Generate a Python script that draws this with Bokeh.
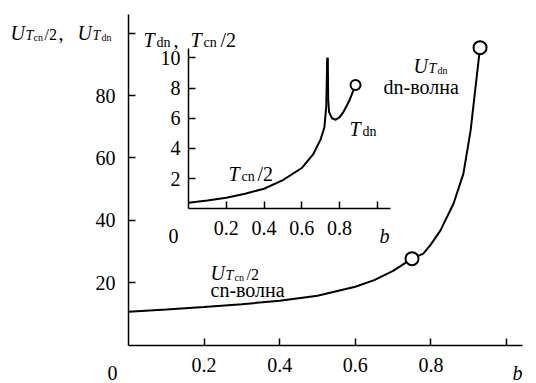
from bokeh.plotting import figure
from bokeh.models import Range1d, LinearAxis, FixedTicker, Label
from bokeh.embed import file_html
from bokeh.resources import INLINE

# ---------------- data ----------------
# main chart: U_{T_cn/2} (cn-wave) and U_{T_dn} (dn-wave) vs b
cn_b = [0.0, 0.1, 0.2, 0.3, 0.4, 0.5, 0.6, 0.65, 0.7, 0.75]
cn_U = [10.7, 11.4, 12.2, 13.1, 14.2, 15.8, 18.7, 20.8, 23.8, 27.7]
dn_b = [0.75, 0.78, 0.80, 0.825, 0.86, 0.886, 0.905, 0.93]
dn_U = [27.7, 29.3, 32.3, 36.7, 45.4, 55.0, 68.8, 95.4]

main_xticks = [0.2, 0.4, 0.6, 0.8, 1.0]
main_xlabels = ["0.2", "0.4", "0.6", "0.8", ""]
main_yticks = [20, 40, 60, 80, 100]
main_ylabels = ["20", "40", "60", "80", ""]

# inset: T_cn/2 and T_dn vs b
tcn_b = [0.0, 0.1, 0.2, 0.3, 0.4, 0.5, 0.6, 0.66, 0.7, 0.72, 0.73, 0.735]
tcn_T = [0.4, 0.55, 0.73, 1.0, 1.33, 1.9, 2.7, 3.6, 4.6, 5.4, 6.8, 10.0]
tdn_b = [0.738, 0.74, 0.745, 0.76, 0.78, 0.80, 0.82, 0.85, 0.885]
tdn_T = [10.0, 7.2, 6.4, 6.0, 5.9, 6.05, 6.4, 7.1, 8.2]

inset_xticks = [0.2, 0.4, 0.6, 0.8, 1.0]
inset_xlabels = ["0.2", "0.4", "0.6", "0.8", ""]
inset_yticks = [2, 4, 6, 8, 10]
inset_ylabels = ["2", "4", "6", "8", "10"]

# ---------------- layout ----------------
W, H = 536, 383
MX0, MXS = 128.0, 378.0                  # main: px of b=0, px per unit
MY0, MYS = 344.5, 3.117                  # main: px of U=0, px per unit
MAIN_XEND, MAIN_YEND = 1.0423, 105.9     # extent of the main axis lines
IX0, IXS = 188.0, 188.75                 # inset x
IY0, IYS = 208.3, 15.1                   # inset y
FONT = "Liberation Serif"

p = figure(width=W, height=H, output_backend="svg", toolbar_location=None,
           x_range=Range1d((0 - MX0) / MXS, (W - MX0) / MXS),
           y_range=Range1d((MY0 - H) / MYS, (MY0 - 0) / MYS),
           x_axis_type=None, y_axis_type=None, title=None,
           min_border_left=0, min_border_right=0,
           min_border_top=0, min_border_bottom=0)
p.outline_line_color = None
p.background_fill_color = "white"
p.border_fill_color = "white"
p.extra_x_ranges = {"ix": Range1d((0 - IX0) / IXS, (W - IX0) / IXS)}
p.extra_y_ranges = {"iy": Range1d((IY0 - H) / IYS, (IY0 - 0) / IYS)}


def style_axis(ax, standoff):
    ax.axis_line_color = "black"
    ax.axis_line_width = 1.5
    ax.major_tick_line_color = "black"
    ax.major_tick_line_width = 1.5
    ax.major_tick_in = 7
    ax.major_tick_out = 0
    ax.minor_tick_in = 0
    ax.minor_tick_out = 0
    ax.major_label_standoff = standoff
    ax.major_label_text_font = FONT
    ax.major_label_text_font_size = "20px"
    ax.major_label_text_color = "black"


mx = LinearAxis(fixed_location=0, bounds=(0, MAIN_XEND),
                ticker=FixedTicker(ticks=main_xticks, minor_ticks=[]),
                major_label_overrides=dict(zip(main_xticks, main_xlabels)))
style_axis(mx, 13)
p.add_layout(mx, "below")
my = LinearAxis(fixed_location=0, bounds=(0, MAIN_YEND),
                ticker=FixedTicker(ticks=main_yticks, minor_ticks=[]),
                major_label_overrides=dict(zip(main_yticks, main_ylabels)))
style_axis(my, 13)
p.add_layout(my, "left")

ix = LinearAxis(x_range_name="ix", y_range_name="iy", fixed_location=0, bounds=(0, 1.07),
                ticker=FixedTicker(ticks=inset_xticks, minor_ticks=[]),
                major_label_overrides=dict(zip(inset_xticks, inset_xlabels)))
style_axis(ix, 12)
p.add_layout(ix, "below")
iy = LinearAxis(x_range_name="ix", y_range_name="iy", fixed_location=0, bounds=(0, 10.6),
                ticker=FixedTicker(ticks=inset_yticks, minor_ticks=[]),
                major_label_overrides=dict(zip(inset_yticks, inset_ylabels)))
style_axis(iy, 8)
p.add_layout(iy, "left")

# curves
p.line(cn_b, cn_U, line_color="black", line_width=2)
p.line(dn_b, dn_U, line_color="black", line_width=2)
p.scatter([cn_b[-1], dn_b[-1]], [cn_U[-1], dn_U[-1]], size=13, marker="circle",
          fill_color="white", line_color="black", line_width=2)

p.line(tcn_b, tcn_T, x_range_name="ix", y_range_name="iy", line_color="black", line_width=2)
p.line(tdn_b, tdn_T, x_range_name="ix", y_range_name="iy", line_color="black", line_width=2)
p.scatter([tdn_b[-1]], [tdn_T[-1]], x_range_name="ix", y_range_name="iy", size=10,
          marker="circle", fill_color="white", line_color="black", line_width=2)


def put(x, y, text, size=20, italic=False, align="left"):
    p.add_layout(Label(x=(x - MX0) / MXS, y=(MY0 - y) / MYS, text=text,
                       text_font=FONT, text_font_size=f"{size}px",
                       text_font_style="italic" if italic else "normal",
                       text_baseline="alphabetic", text_align=align, text_color="black"))


# corner / end labels of axes
put(112, 372, "0", align="center")
put(517, 372, "b", italic=True, align="center")
put(173, 235, "0", align="center")
put(384, 235, "b", italic=True, align="center")

# main y-axis title: U_{T_cn/2}, U_{T_dn}
put(10, 32, "U", 20, True)
put(25, 35, "T", 14, True)
put(33, 37, "cn", 10)
put(44, 34, "/2", 16)
put(58, 32, ",", 20)
put(77, 32, "U", 20, True)
put(92, 35, "T", 14, True)
put(101, 37, "dn", 10)

# inset y-axis title: T_dn, T_cn/2
put(143, 39, "T", 20, True)
put(156, 42, "dn", 14)
put(173, 39, ",", 20)
put(190, 39, "T", 20, True)
put(203, 42, "cn", 14)
put(220, 39, "/2", 20)

# inset curve labels
put(228, 173, "T", 20, True)
put(241, 176, "cn", 14)
put(257, 173, "/2", 20)
put(349, 128, "T", 20, True)
put(362, 131, "dn", 14)

# main curve labels
put(210, 272, "U", 20, True)
put(225, 275, "T", 14, True)
put(234, 277, "cn", 10)
put(246, 274, "/2", 16)
put(210, 289, "cn-волна", 20)
put(413, 65, "U", 20, True)
put(428, 68, "T", 14, True)
put(437, 70, "dn", 10)
put(383, 86, "dn-волна", 20)

open("out.html", "w").write(file_html(p, INLINE))
